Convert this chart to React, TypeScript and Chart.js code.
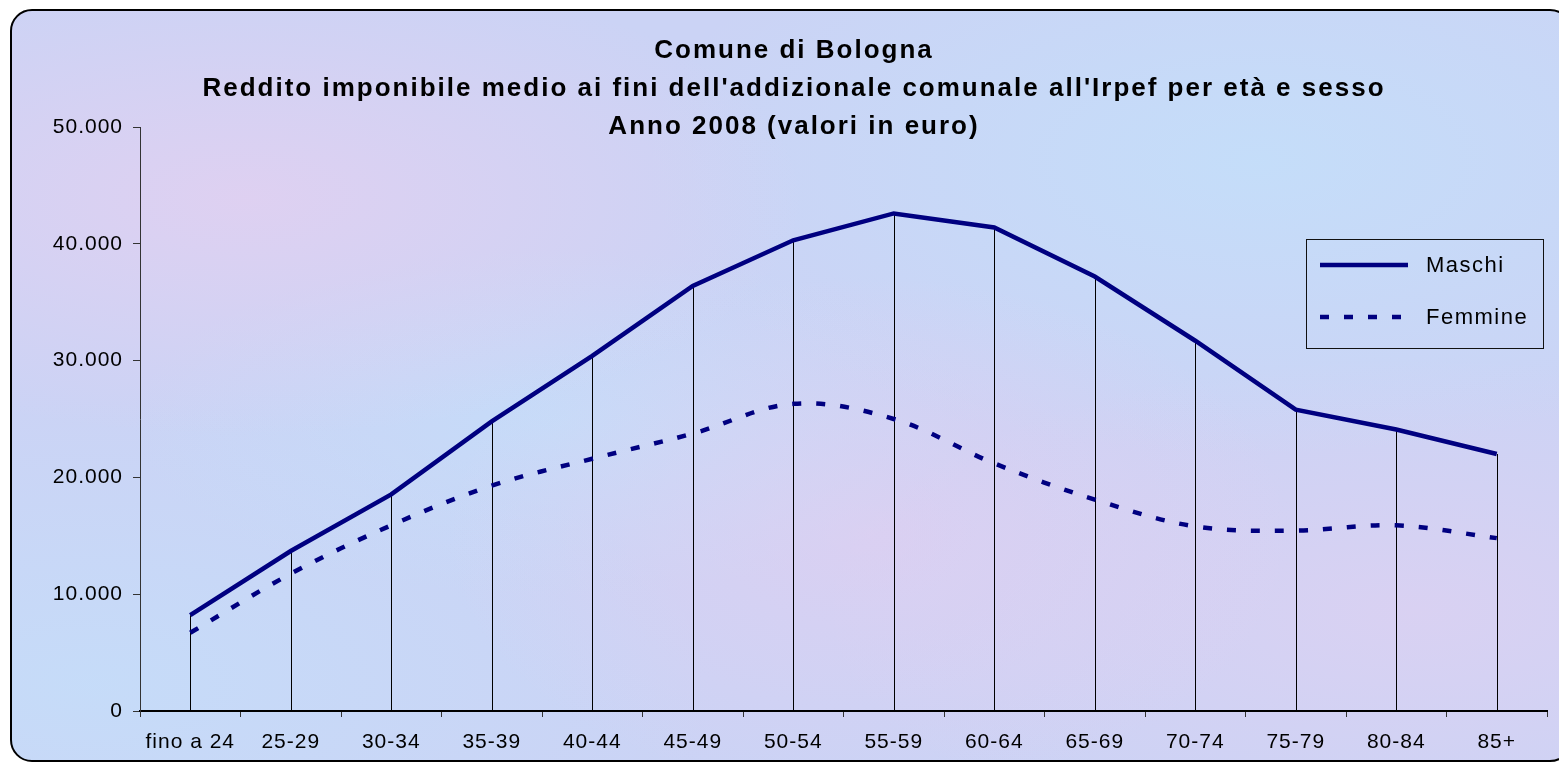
import React, { useEffect, useRef } from 'react';
import { Chart, registerables } from 'chart.js';

Chart.register(...registerables);

const categories = ['fino a 24', '25-29', '30-34', '35-39', '40-44', '45-49', '50-54', '55-59', '60-64', '65-69', '70-74', '75-79', '80-84', '85+'];
const maschi = [8200, 13700, 18550, 24800, 30400, 36400, 40300, 42600, 41400, 37200, 31700, 25800, 24100, 22000];
const femmine = [6700, 11750, 15900, 19300, 21600, 23750, 26300, 25000, 21200, 18100, 15800, 15450, 15900, 14800];
const seriesNames = ['Maschi', 'Femmine'];
const titleLines = [
  'Comune di Bologna',
  "Reddito imponibile medio ai fini dell'addizionale comunale all'Irpef per età e sesso",
  'Anno 2008 (valori in euro)',
];
const yMin = 0;
const yMax = 50000;
const yStep = 10000;

const FONT = '"Liberation Sans", Arial, sans-serif';
const NAVY = '#000080';
const PAD = { left: 41, right: 12, top: 127, bottom: 0 };

const fmt = (v: number) => String(Math.round(v)).replace(/\B(?=(\d{3})+(?!\d))/g, '.');

const spacingPlugin = {
  id: 'letterSpacing',
  beforeDraw(chart: any) {
    (chart.ctx as any).letterSpacing = '1px';
  },
};

const titlePlugin = {
  id: 'multiTitle',
  afterDraw(chart: any) {
    const { ctx, chartArea } = chart;
    const cx = (PAD.left + chart.width - PAD.right) / 2;
    ctx.save();
    ctx.fillStyle = '#000';
    ctx.font = `bold 26px ${FONT}`;
    (ctx as any).letterSpacing = '2px';
    ctx.textAlign = 'center';
    ctx.textBaseline = 'middle';
    titleLines.forEach((t, i) => {
      ctx.fillText(t, cx, chartArea.top - 76 + i * 38);
    });
    ctx.restore();
  },
};

const dropLinesPlugin = {
  id: 'dropLines',
  beforeDatasetsDraw(chart: any) {
    const { ctx, scales } = chart;
    const xs = scales.x;
    const ys = scales.y;
    const data = chart.data.datasets[0].data as number[];
    ctx.save();
    ctx.strokeStyle = '#000';
    ctx.lineWidth = 1;
    data.forEach((v, i) => {
      const x = Math.round(xs.getPixelForValue(i)) + 0.5;
      ctx.beginPath();
      ctx.moveTo(x, ys.getPixelForValue(v));
      ctx.lineTo(x, ys.getPixelForValue(0));
      ctx.stroke();
    });
    ctx.restore();
  },
};

const boxLegendPlugin = {
  id: 'boxLegend',
  afterDraw(chart: any) {
    const { ctx, chartArea } = chart;
    const left = chartArea.right - 241;
    const right = chartArea.right - 4;
    const top = chartArea.top + 112;
    const bottom = chartArea.top + 221;
    ctx.save();
    ctx.strokeStyle = '#111';
    ctx.lineWidth = 1;
    ctx.setLineDash([]);
    ctx.strokeRect(Math.round(left) + 0.5, Math.round(top) + 0.5, right - left, bottom - top);
    chart.data.datasets.forEach((ds: any, i: number) => {
      const y = top + 26 + i * 52;
      ctx.beginPath();
      ctx.setLineDash(ds.borderDash || []);
      ctx.lineCap = 'butt';
      ctx.lineWidth = ds.borderWidth;
      ctx.strokeStyle = ds.borderColor;
      ctx.moveTo(left + 14, y);
      ctx.lineTo(left + 102, y);
      ctx.stroke();
      ctx.setLineDash([]);
      ctx.fillStyle = '#000';
      ctx.font = `22px ${FONT}`;
      (ctx as any).letterSpacing = '1.5px';
      ctx.textAlign = 'left';
      ctx.textBaseline = 'middle';
      ctx.fillText(ds.label, left + 120, y + 1);
    });
    ctx.restore();
  },
};

export default function App() {
  const canvasRef = useRef<HTMLCanvasElement | null>(null);

  useEffect(() => {
    document.body.style.margin = '0';
    document.body.style.overflow = 'hidden';
    const canvas = canvasRef.current;
    if (!canvas) return;
    const chart = new Chart(canvas, {
      type: 'line',
      data: {
        labels: categories,
        datasets: [
          {
            label: seriesNames[0],
            data: maschi,
            borderColor: NAVY,
            backgroundColor: NAVY,
            borderWidth: 4.5,
            tension: 0,
            pointRadius: 0,
            fill: false,
            borderCapStyle: 'butt',
          },
          {
            label: seriesNames[1],
            data: femmine,
            borderColor: NAVY,
            backgroundColor: NAVY,
            borderWidth: 4.5,
            borderDash: [9, 15],
            tension: 0.35,
            pointRadius: 0,
            fill: false,
            borderCapStyle: 'butt',
          },
        ],
      },
      options: {
        responsive: false,
        animation: false,
        devicePixelRatio: 1,
        layout: {
          autoPadding: false,
          padding: PAD,
        },
        plugins: {
          legend: { display: false },
          tooltip: { enabled: false },
          title: { display: false },
        },
        scales: {
          x: {
            type: 'category',
            offset: true,
            grid: {
              display: true,
              offset: true,
              drawOnChartArea: false,
              drawTicks: true,
              tickLength: 6,
              color: '#333',
              lineWidth: 1,
            },
            border: { display: true, color: '#000', width: 2 },
            ticks: {
              color: '#000',
              font: { family: FONT, size: 21 },
              padding: 13,
              maxRotation: 0,
              autoSkip: false,
            },
            afterFit: (scale: any) => {
              scale.height = 51;
            },
          },
          y: {
            min: yMin,
            max: yMax,
            grid: {
              display: true,
              drawOnChartArea: false,
              drawTicks: true,
              tickLength: 7,
              color: '#333',
              lineWidth: 1,
            },
            border: { display: true, color: '#333', width: 1 },
            ticks: {
              stepSize: yStep,
              color: '#000',
              font: { family: FONT, size: 21 },
              padding: 10,
              callback: (v: any) => fmt(Number(v)),
            },
            afterFit: (scale: any) => {
              scale.width = 99;
            },
          },
        },
      } as any,
      plugins: [spacingPlugin, dropLinesPlugin, titlePlugin, boxLegendPlugin],
    });
    return () => chart.destroy();
  }, []);

  const frameStyle: React.CSSProperties = {
    position: 'absolute',
    left: 10,
    top: 9,
    width: 1562,
    height: 753,
    boxSizing: 'border-box',
    border: '2px solid #000',
    borderRadius: 22,
    backgroundColor: '#cbd3f5',
    backgroundImage: [
      'radial-gradient(ellipse at 15% 25%, rgba(238,206,238,0.55), rgba(238,206,238,0) 30%)',
      'radial-gradient(ellipse at 55% 70%, rgba(236,204,238,0.45), rgba(236,204,238,0) 35%)',
      'radial-gradient(ellipse at 80% 20%, rgba(192,228,252,0.6), rgba(192,228,252,0) 35%)',
      'radial-gradient(ellipse at 35% 55%, rgba(192,228,252,0.5), rgba(192,228,252,0) 30%)',
      'radial-gradient(ellipse at 90% 80%, rgba(238,206,238,0.4), rgba(238,206,238,0) 30%)',
      'radial-gradient(ellipse at 5% 90%, rgba(192,228,252,0.5), rgba(192,228,252,0) 30%)',
    ].join(','),
  };

  return (
    <div style={{ position: 'fixed', left: 0, top: 0, width: 1559, height: 762, overflow: 'hidden', background: '#fff' }}>
      <div style={frameStyle} />
      <canvas
        ref={canvasRef}
        width={1559}
        height={762}
        style={{ position: 'absolute', left: 0, top: 0, width: 1559, height: 762, display: 'block' }}
      />
    </div>
  );
}
